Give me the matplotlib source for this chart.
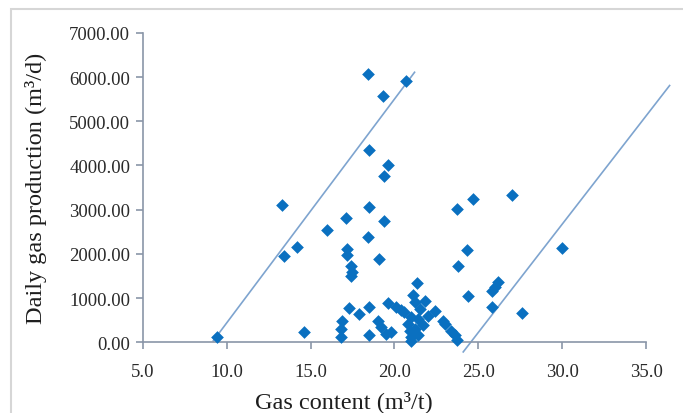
import matplotlib.pyplot as plt
from matplotlib.patches import Rectangle
from matplotlib.ticker import FormatStrFormatter

# gas content (m3/t) and daily gas production (m3/d) per well
gas_content = [
    9.4, 13.3, 13.4, 14.2, 14.6, 16.0, 16.8, 16.8, 16.9, 17.1,
    17.2, 17.2, 17.3, 17.4, 17.5, 17.4, 17.9, 18.4, 18.4, 18.5,
    18.5, 18.5, 18.5, 19.0, 19.1, 19.2, 19.3, 19.4, 19.4, 19.5,
    19.6, 19.6, 19.8, 20.1, 20.4, 20.6, 20.7, 20.8, 21.0, 21.0,
    21.0, 21.1, 21.2, 21.35, 21.4, 21.4, 21.7, 21.8, 22.4, 22.9,
    23.0, 23.4, 23.6, 23.7, 23.7, 23.8, 24.3, 24.4, 24.7, 25.8,
    25.8, 26.0, 26.2, 27.0, 27.6, 30.0, 20.9, 21.2, 22.0, 21.5,
]
daily_production = [
    110, 3100, 1960, 2150, 240, 2530, 110, 300, 470, 2820,
    2100, 1980, 770, 1720, 1600, 1500, 640, 6060, 2380, 4360,
    3050, 790, 160, 470, 1880, 340, 5570, 2750, 3760, 190,
    4000, 880, 220, 790, 720, 680, 5920, 420, 110, 30,
    560, 1060, 900, 1350, 160, 520, 380, 940, 700, 480,
    420, 260, 160, 60, 3010, 1730, 2090, 1040, 3240, 800,
    1150, 1260, 1360, 3330, 670, 2130, 250, 300, 600, 750,
]

# bounding trend lines (x, y end points)
upper_line_x = [9.2, 21.2]
upper_line_y = [30, 6110]
lower_line_x = [24.1, 36.4]
lower_line_y = [-220, 5810]

x_ticks = [5.0, 10.0, 15.0, 20.0, 25.0, 30.0, 35.0]
y_ticks = [0, 1000, 2000, 3000, 4000, 5000, 6000, 7000]

plt.rcParams["font.family"] = ["Liberation Serif", "DejaVu Serif"]

fig = plt.figure(figsize=(6.83, 4.14), dpi=100)
ax = fig.add_axes([0.209, 0.171, 0.737, 0.747])

ax.plot(upper_line_x, upper_line_y, color="#7ea4cf", lw=1.2, clip_on=False)
ax.plot(lower_line_x, lower_line_y, color="#7ea4cf", lw=1.2, clip_on=False)
ax.scatter(gas_content, daily_production, marker="D", s=42, color="#0a70c0",
           linewidths=0, zorder=3, clip_on=False)

ax.set_xlim(5, 35)
ax.set_ylim(0, 7000)
ax.set_xticks(x_ticks)
ax.set_yticks(y_ticks)
ax.xaxis.set_major_formatter(FormatStrFormatter("%.1f"))
ax.yaxis.set_major_formatter(FormatStrFormatter("%.2f"))

spine_color = "#8a96a8"
for side in ("top", "right"):
    ax.spines[side].set_visible(False)
for side in ("left", "bottom"):
    ax.spines[side].set_color(spine_color)
    ax.spines[side].set_linewidth(1.2)
ax.tick_params(axis="both", colors=spine_color, length=5, width=1.2,
               labelcolor="#2a2a2a", labelsize=13.5)
ax.tick_params(axis="y", pad=4)
ax.tick_params(axis="x", pad=10)

ax.set_xlabel("Gas content (m³/t)", fontsize=17.5, color="#1e1e1e")
ax.set_ylabel("Daily gas production (m³/d)", fontsize=17.5, color="#1e1e1e")
ax.xaxis.set_label_coords(0.40, -0.155)
ax.yaxis.set_label_coords(-0.19, 0.5)

# light frame around the chart area
fig.patches.append(Rectangle((11 / 683, -0.05), 1.05, 0.05 + (414 - 10) / 414,
                             transform=fig.transFigure, fill=False,
                             edgecolor="#d6d6d6", lw=1.5))

fig.savefig("out.png", dpi=100)
